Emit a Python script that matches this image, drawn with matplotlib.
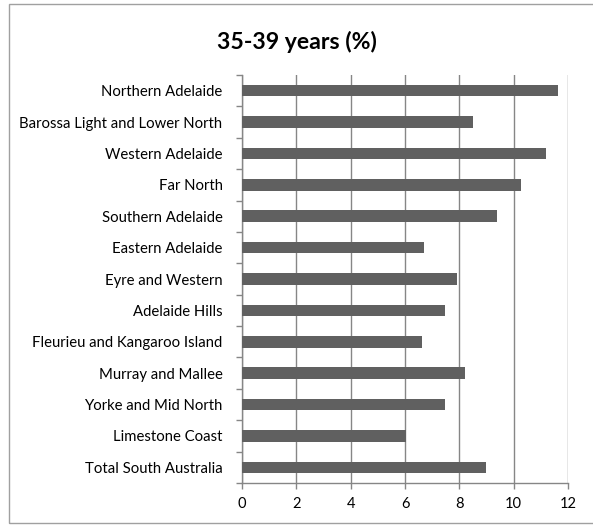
import matplotlib
matplotlib.use("Agg")
import matplotlib.pyplot as plt
from matplotlib.patches import Rectangle

categories = [
    "Northern Adelaide",
    "Barossa Light and Lower North",
    "Western Adelaide",
    "Far North",
    "Southern Adelaide",
    "Eastern Adelaide",
    "Eyre and Western",
    "Adelaide Hills",
    "Fleurieu and Kangaroo Island",
    "Murray and Mallee",
    "Yorke and Mid North",
    "Limestone Coast",
    "Total South Australia",
]
values = [11.62, 8.49, 11.19, 10.28, 9.40, 6.71, 7.93, 7.47, 6.63, 8.22, 7.48, 6.05, 8.99]
xticks = [0, 2, 4, 6, 8, 10, 12]
title = "35-39 years (%)"

plt.rcParams['font.family'] = ['Lato', 'DejaVu Sans']

W, H = 593, 526
fig = plt.figure(figsize=(W / 100, H / 100), dpi=100)
ax = fig.add_axes([242 / W, 1 - 483 / H, (568 - 242) / W, (483 - 75) / H])

n = len(categories)
ypos = list(range(n))
ax.barh(ypos, values, height=0.37, color="#606060", zorder=3)
ax.set_ylim(n - 0.5, -0.5)
ax.set_xlim(0, 12)
ax.set_xticks(xticks)
ax.set_xticklabels([str(t) for t in xticks], fontsize=10.5)
ax.set_yticks(ypos)
ax.set_yticklabels(categories, fontsize=10.7)
ax.tick_params(axis='y', length=0, pad=14)
ax.set_yticks([i - 0.5 for i in range(n + 1)], minor=True)
ax.tick_params(axis='y', which='minor', length=4, color="#868686", width=1)
ax.tick_params(axis='x', length=4, color="#868686", width=1, pad=6)
ax.grid(axis='x', color="#868686", linewidth=1, zorder=0)
for s in ['top', 'right']:
    ax.spines[s].set_visible(False)
for s in ['left', 'bottom']:
    ax.spines[s].set_color("#868686")
    ax.spines[s].set_linewidth(1)

fig.text(297 / W, 1 - 42 / H, title, ha='center', va='center', fontsize=16.6, fontweight='bold')

fig.patches.append(Rectangle((9 / W, 1 - 523 / H), (600 - 9) / W, (523 - 4) / H,
                             transform=fig.transFigure, fill=False, edgecolor="#a0a0a0", linewidth=1))

fig.savefig("out.png", dpi=100)
